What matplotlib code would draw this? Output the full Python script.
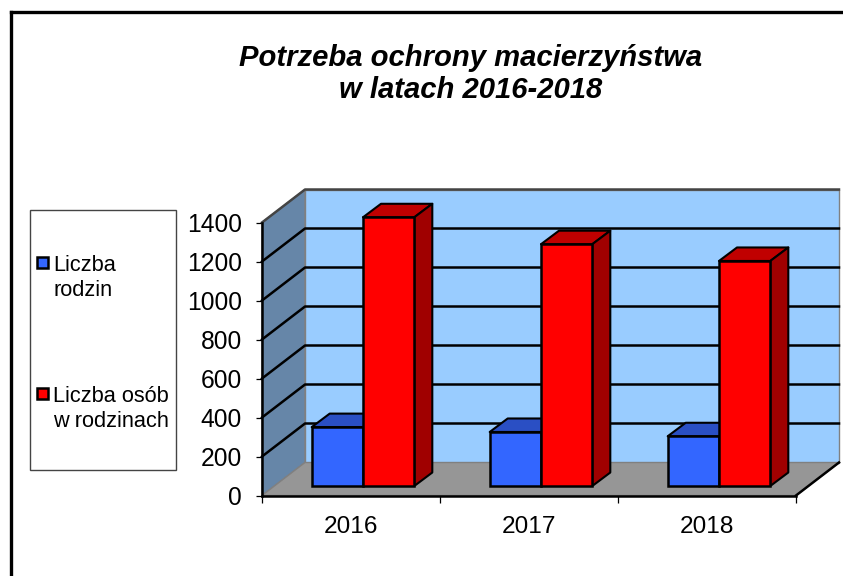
import matplotlib
matplotlib.use("Agg")
import matplotlib.pyplot as plt
from matplotlib.lines import Line2D
from matplotlib.patches import Rectangle

plt.rcParams['font.family'] = ['Liberation Sans', 'DejaVu Sans']

# ---- data ----
years = ['2016', '2017', '2018']
rodziny = [302, 277, 255]
osoby = [1378, 1240, 1154]
y_ticks = [0, 200, 400, 600, 800, 1000, 1200, 1400]
title_text = 'Potrzeba ochrony macierzyństwa\nw latach 2016-2018'
legend_labels = ['Liczba\nrodzin', 'Liczba osób\nw rodzinach']

W, H = 843, 576
fig = plt.figure(figsize=(W / 100, H / 100), dpi=100, facecolor='white')


def fx(px):
    return px / W


def fy(py):
    return 1 - py / H


# outer border: only the top and left edges fall inside the picture
fig.add_artist(Line2D([fx(10.7), fx(10.7)], [fy(12.4), fy(578)], color='black', lw=2.4,
                      transform=fig.transFigure, solid_capstyle='projecting'))
fig.add_artist(Line2D([fx(10.7), fx(845)], [fy(12.4), fy(12.4)], color='black', lw=2.4,
                      transform=fig.transFigure, solid_capstyle='projecting'))

# plot axes = front plane of the 3D box
L, R, B, T = 262, 796, 495.5, 222.5
ax = fig.add_axes([fx(L), fy(B), fx(R - L), fy(T) - fy(B)])
ax.set_xlim(0, 3)
ax.set_ylim(0, 1400)
ax.patch.set_alpha(0)
for s in ax.spines.values():
    s.set_visible(False)

ux = 3 / (R - L)          # data per pixel
uy = 1400 / (B - T)
DX, DY = 43 * ux, 33 * uy       # box depth
BDX, BDY = 18 * ux, 13.5 * uy   # bar depth
GX, GY = 12 * ux, 9.5 * uy      # bar inset from front plane
bw = 51.3 * ux

EDGE = 'black'
GRID_LW = 1.8
# walls
ax.fill([DX, 3 + DX, 3 + DX, DX], [DY, DY, 1400 + DY, 1400 + DY],
        fc='#99CCFF', ec='#808080', lw=1, clip_on=False, zorder=1)
ax.fill([0, DX, DX, 0], [0, DY, 1400 + DY, 1400],
        fc='#6686A8', ec='#808080', lw=1, clip_on=False, zorder=1)
ax.fill([0, 3, 3 + DX, DX], [0, 0, DY, DY],
        fc='#969696', ec='#808080', lw=1, clip_on=False, zorder=1)
# floor outer edge
ax.plot([3, 3 + DX], [0, DY], color='black', lw=GRID_LW, clip_on=False, zorder=2)
# grid
for v in y_ticks[1:]:
    c = '#444444' if v == 1400 else 'black'
    xs = [0, DX, 3 + DX]
    ax.plot(xs, [v, v + DY, v + DY], color=c, lw=GRID_LW,
            clip_on=False, zorder=2, solid_joinstyle='round')


def bar3d(x0, v, front, top, side, z):
    b0 = GY
    x1 = x0 + bw
    ax.bar(x0, v, width=bw, bottom=b0, align='edge', fc=front, ec=EDGE, lw=1.8,
           clip_on=False, zorder=z + 0.2)
    ax.fill([x0, x1, x1 + BDX, x0 + BDX], [b0 + v, b0 + v, b0 + v + BDY, b0 + v + BDY],
            fc=top, ec=EDGE, lw=1.5, clip_on=False, zorder=z, joinstyle='round')
    ax.fill([x1, x1 + BDX, x1 + BDX, x1], [b0, b0 + BDY, b0 + v + BDY, b0 + v],
            fc=side, ec=EDGE, lw=1.5, clip_on=False, zorder=z, joinstyle='round')


for i in range(len(years)):
    c = i + 0.5 + GX
    bar3d(c - bw, rodziny[i], '#3366FF', '#2A4FC4', '#2440A0', 3 + i)
    bar3d(c, osoby[i], '#FF0000', '#C00000', '#A00000', 3.5 + i)

# axis lines
ax.plot([0, 0], [0, 1400], color='black', lw=GRID_LW, clip_on=False, zorder=2)
ax.plot([0, 3], [0, 0], color='black', lw=GRID_LW, clip_on=False, zorder=9)
ax.set_yticks(y_ticks)
ax.set_xticks([0, 1, 2, 3])
ax.set_xticklabels([])
ax.tick_params(axis='y', length=4.5, width=0.9, pad=10, labelsize=17.7)
ax.tick_params(axis='x', length=5, width=0.9)
for i, y in enumerate(years):
    ax.text(i + 0.5, -160, y, ha='center', va='center', fontsize=17.6, clip_on=False)

# title
fig.text(fx(471), fy(74), title_text, ha='center', va='center', fontsize=21.1,
         fontweight='bold', fontstyle='italic', linespacing=1.17)

# legend
fig.add_artist(Rectangle((fx(29.5), fy(470)), fx(146.5), fy(209.5) - fy(470),
                         transform=fig.transFigure, fc='white', ec='#444444', lw=1))
for label, col, ky in zip(legend_labels, ['#3366FF', '#FF0000'], [262.7, 393.3]):
    fig.add_artist(Rectangle((fx(37), fy(ky + 5.5)), fx(11), fy(ky - 5.5) - fy(ky + 5.5),
                             transform=fig.transFigure, fc=col, ec='black', lw=1.8))
    fig.text(fx(53), fy(ky - 7.5), label, ha='left', va='top', fontsize=15.7, linespacing=1.25)

fig.savefig('out.png', dpi=100, facecolor='white')
